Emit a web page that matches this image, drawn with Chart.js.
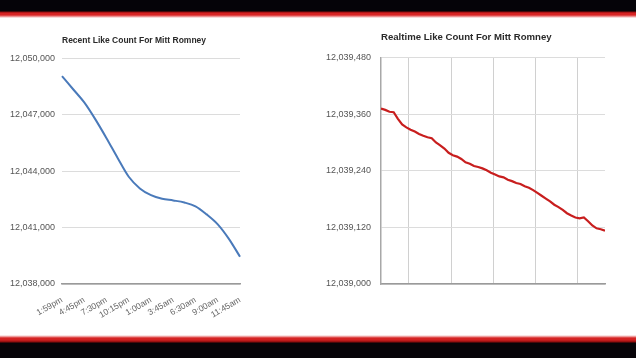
<!DOCTYPE html>
<html>
<head>
<meta charset="utf-8">
<script src="https://cdn.jsdelivr.net/npm/chart.js@4.4.1/dist/chart.umd.min.js"></script>
<style>
  html, body { margin: 0; padding: 0; background: #fff; }
  body { width: 636px; height: 358px; position: relative; overflow: hidden; }
  .bar-top { position: absolute; left: 0; top: 0; width: 636px; height: 18px;
    background: linear-gradient(to bottom, #050308 0, #050308 11px, #8a0c0c 12px, #d52222 13px, #d92626 15px, #f3b4b4 17px, #fff 18px); }
  .bar-bottom { position: absolute; left: 0; top: 335px; width: 636px; height: 23px;
    background: linear-gradient(to bottom, #fff 0, #f6c6c6 1px, #d62424 3px, #cf2020 5px, #8a0c0c 7px, #070408 8px, #070408 23px); }
  canvas { position: absolute; }
</style>
</head>
<body>
<div class="bar-top"></div>
<div class="bar-bottom"></div>
<canvas id="recent" width="250" height="300" style="left:0;top:18px"></canvas>
<canvas id="realtime" width="300" height="300" style="left:318px;top:18px"></canvas>
<script>
// recent chart: 17 samples, a tick label on every second one
var recentTicks = ['1:59pm', '4:45pm', '7:30pm', '10:15pm', '1:00am', '3:45am', '6:30am', '9:00am', '11:45am'];
var recentValues = [12049050, 12048350, 12047650, 12046750, 12045750, 12044700, 12043700, 12043080,
  12042720, 12042530, 12042440, 12042330, 12042130, 12041700, 12041170, 12040400, 12039450];
var recentMin = 12038000, recentMax = 12050000, recentStep = 3000;

// realtime chart: one sample a minute
var realtimeValues = [12039372, 12039369, 12039365, 12039364, 12039350, 12039338, 12039332, 12039327,
  12039323, 12039318, 12039314, 12039311, 12039309, 12039300, 12039294, 12039287, 12039278, 12039273,
  12039270, 12039265, 12039258, 12039255, 12039250, 12039248, 12039245, 12039241, 12039236, 12039232,
  12039228, 12039226, 12039221, 12039218, 12039214, 12039212, 12039207, 12039204, 12039199, 12039193,
  12039187, 12039181, 12039175, 12039168, 12039163, 12039157, 12039150, 12039145, 12039141, 12039139,
  12039141, 12039133, 12039124, 12039118, 12039116, 12039113];
var realtimeGrid = [6.6, 16.6, 26.6, 36.6, 46.6];
var realtimeMin = 12039000, realtimeMax = 12039480, realtimeStep = 120;

Chart.defaults.font.family = "'Liberation Sans', Arial, sans-serif";
Chart.defaults.color = '#444';

function fmt(v) { return Number(v).toLocaleString('en-US'); }

var recentLabels = recentValues.map(function(v, i) {
  return i % 2 === 0 ? recentTicks[i / 2] : '';
});

new Chart(document.getElementById('recent'), {
  type: 'line',
  data: {
    labels: recentLabels,
    datasets: [{
      data: recentValues,
      borderColor: '#4a7aba',
      borderWidth: 2,
      pointRadius: 0,
      cubicInterpolationMode: 'monotone'
    }]
  },
  options: {
    responsive: false,
    animation: false,
    layout: { padding: { left: 0, right: 10, top: 0, bottom: 0 } },
    plugins: {
      legend: { display: false },
      tooltip: { enabled: false },
      title: {
        display: true,
        text: 'Recent Like Count For Mitt Romney',
        align: 'start',
        fullSize: false,
        color: '#2a2a2a',
        font: { size: 8.5, weight: 'bold' },
        padding: { top: 18, bottom: 12 }
      }
    },
    scales: {
      x: {
        grid: { display: false },
        border: { display: true, color: '#9a9a9a', width: 1.5 },
        ticks: {
          autoSkip: false, minRotation: 30, maxRotation: 30,
          padding: 3, color: '#666', font: { size: 8.5 }
        },
        afterFit: function(s) { s.height = 34; }
      },
      y: {
        min: recentMin, max: recentMax,
        grid: { color: '#dcdcdc', drawTicks: false },
        border: { display: false },
        ticks: { stepSize: recentStep, padding: 7, color: '#555', font: { size: 9 }, callback: fmt },
        afterFit: function(s) { s.width = 62; }
      }
    }
  }
});

new Chart(document.getElementById('realtime'), {
  type: 'line',
  data: {
    datasets: [{
      data: realtimeValues.map(function(v, i) { return { x: i, y: v }; }),
      borderColor: '#c81e1e',
      borderWidth: 2.2,
      pointRadius: 0,
      tension: 0
    }]
  },
  options: {
    responsive: false,
    animation: false,
    layout: { padding: { left: 0, right: 13, top: 0, bottom: 0 } },
    plugins: {
      legend: { display: false },
      tooltip: { enabled: false },
      title: {
        display: true,
        text: 'Realtime Like Count For Mitt Romney',
        align: 'start',
        fullSize: false,
        color: '#2a2a2a',
        font: { size: 9.6, weight: 'bold' },
        padding: { top: 14, bottom: 14 }
      }
    },
    scales: {
      x: {
        type: 'linear',
        min: 0, max: realtimeValues.length - 1,
        afterBuildTicks: function(s) { s.ticks = realtimeGrid.map(function(v) { return { value: v }; }); },
        grid: { color: '#d0d0d0', drawTicks: false },
        border: { display: true, color: '#9a9a9a', width: 1.5 },
        ticks: { display: false },
        afterFit: function(s) { s.height = 34; }
      },
      y: {
        min: realtimeMin, max: realtimeMax,
        grid: { color: '#dcdcdc', drawTicks: false },
        border: { display: true, color: '#a8a8a8', width: 1.5 },
        ticks: { stepSize: realtimeStep, padding: 10, color: '#555', font: { size: 9 }, callback: fmt },
        afterFit: function(s) { s.width = 63; }
      }
    }
  }
});
</script>
</body>
</html>
